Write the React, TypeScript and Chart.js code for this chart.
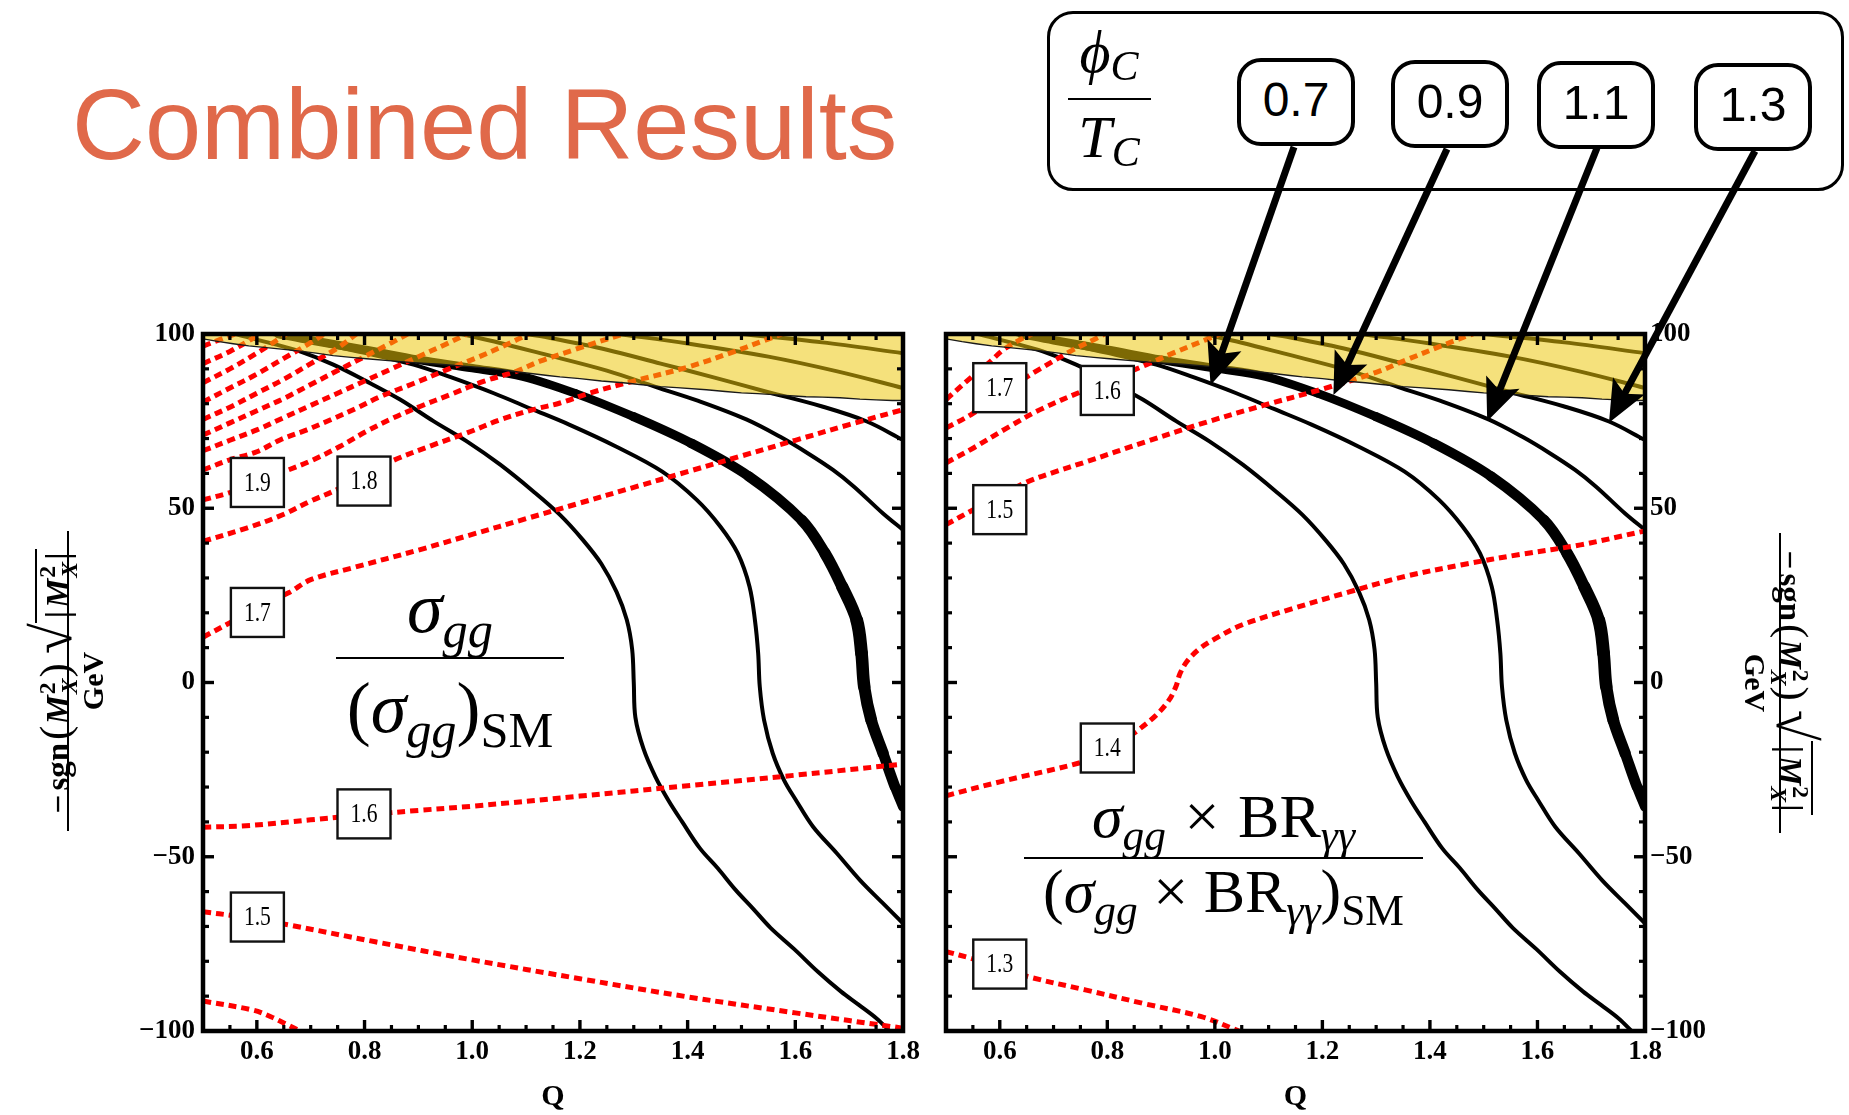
import React, { useEffect, useRef } from 'react';
import { Chart, registerables } from 'chart.js';

Chart.register(...registerables);

type Pt = [number, number];

// ---------- axes ----------
const X_TICKS = [0.6, 0.8, 1.0, 1.2, 1.4, 1.6, 1.8];
const X_MINOR_TICKS = [0.55, 0.65, 0.7, 0.75, 0.85, 0.9, 0.95, 1.05, 1.1, 1.15, 1.25, 1.3, 1.35, 1.45, 1.5, 1.55, 1.65, 1.7, 1.75];
const Y_TICKS = [-100, -50, 0, 50, 100];
const Y_MINOR_TICKS = [-90, -80, -70, -60, -40, -30, -20, -10, 10, 20, 30, 40, 60, 70, 80, 90];

// ---------- phi_C / T_C contours (same in both panels) ----------
const PHI_05: Pt[] = [[0.56, 100], [0.62, 97.6], [0.68, 95.0], [0.742, 91.2], [0.804, 86.4], [0.866, 81.2], [0.928, 75.0], [0.99, 69.2], [1.052, 62.5], [1.113, 54.9], [1.163, 48.1], [1.205, 41], [1.24, 34], [1.268, 26], [1.287, 18], [1.297, 9.5], [1.3, 0], [1.303, -10], [1.318, -19], [1.34, -27], [1.365, -34], [1.39, -40], [1.423, -47.6], [1.456, -53.3], [1.489, -59.5], [1.521, -64.8], [1.554, -70.4], [1.598, -76.5], [1.642, -83.0], [1.685, -88.7], [1.718, -92.5], [1.751, -96.4], [1.775, -100]];
const PHI_07: Pt[] = [[0.63, 100], [0.72, 97.2], [0.8, 94.6], [0.891, 91.2], [0.96, 87.6], [1.04, 83.0], [1.11, 78.5], [1.18, 74.0], [1.266, 67.8], [1.353, 60.5], [1.417, 52.4], [1.461, 44.7], [1.493, 37.1], [1.515, 27.5], [1.525, 17.9], [1.531, 8.4], [1.534, -1.2], [1.542, -10.8], [1.558, -20.3], [1.579, -28.0], [1.601, -33.7], [1.633, -41.4], [1.677, -49.0], [1.72, -56.7], [1.763, -63.4], [1.8, -69.1]];
const PHI_09: Pt[] = [[0.64, 100], [0.7, 98.2], [0.8, 95.5], [0.9, 92.6], [1.0, 90.2], [1.094, 87.8], [1.191, 83.0], [1.299, 76.3], [1.407, 68.6], [1.514, 59.1], [1.612, 46.6], [1.655, 37.1], [1.687, 27.5], [1.714, 17.9], [1.723, 8.4], [1.728, -1.2], [1.741, -10.8], [1.763, -20.3], [1.785, -29.9], [1.8, -35.6]];
const PHI_11: Pt[] = [[0.98, 100], [1.05, 97.5], [1.126, 94.5], [1.25, 89.5], [1.343, 84.7], [1.42, 80.8], [1.509, 75.5], [1.572, 70.5], [1.623, 65.8], [1.67, 61], [1.709, 56.2], [1.763, 48.5], [1.8, 43.8]];
const PHI_13: Pt[] = [[1.1, 100], [1.126, 99.4], [1.25, 95.5], [1.35, 91.5], [1.45, 87.5], [1.55, 83.3], [1.65, 79.2], [1.733, 74.9], [1.8, 69.6]];
const PHI_15: Pt[] = [[1.27, 100], [1.4, 97.3], [1.55, 93.5], [1.68, 89.2], [1.8, 84.5]];
const PHI_17: Pt[] = [[1.5, 100], [1.65, 97.6], [1.8, 94.5]];

// excluded region (top), its lower edge
const EXCLUDED_EDGE: Pt[] = [[0.5, 98.6], [0.53, 97.8], [0.556, 97.2], [0.585, 96.6], [0.618, 96.1], [0.65, 95.6], [0.68, 95.1], [0.71, 94.5], [0.742, 93.8], [0.775, 93.3], [0.804, 92.9], [0.85, 92.3], [0.891, 91.8], [0.94, 91.3], [0.99, 90.7], [1.02, 90.3], [1.052, 89.8], [1.085, 89.1], [1.113, 88.6], [1.14, 88.1], [1.163, 87.7], [1.2, 87.2], [1.24, 86.5], [1.28, 86.0], [1.311, 85.5], [1.35, 84.9], [1.38, 84.6], [1.435, 84.0], [1.47, 83.5], [1.5, 83.1], [1.53, 82.9], [1.559, 82.6], [1.59, 82.3], [1.62, 82.0], [1.65, 81.9], [1.683, 81.7], [1.72, 81.3], [1.75, 81.1], [1.78, 80.9], [1.8, 80.9]];

// ---------- left panel: sigma_gg / (sigma_gg)_SM ----------
const SIG_14: Pt[] = [[0.5, -91.4], [0.593, -94.0], [0.626, -95.9], [0.658, -98.3], [0.68, -100]];
const SIG_15: Pt[] = [[0.5, -65.8], [0.56, -67.0], [0.66, -69.6], [0.82, -74.4], [1.0, -79.6], [1.2, -85.0], [1.4, -90.2], [1.6, -94.8], [1.8, -99.2]];
const SIG_16: Pt[] = [[0.5, -41.5], [0.58, -41.1], [0.7, -39.4], [0.8, -38.0], [0.9, -36.7], [1.0, -35.5], [1.2, -32.6], [1.4, -29.6], [1.6, -26.6], [1.8, -23.4]];
const SIG_17: Pt[] = [[0.5, 13], [0.56, 18], [0.62, 23], [0.66, 25.8], [0.7, 29.5], [0.78, 33], [0.9, 38], [1.0, 42.5], [1.1, 47], [1.2, 51.5], [1.3, 56], [1.4, 60.5], [1.5, 65], [1.6, 69.5], [1.7, 74], [1.8, 78.3]];
const SIG_18: Pt[] = [[0.5, 40.5], [0.581, 44.3], [0.649, 48.2], [0.699, 52.0], [0.748, 55.3], [0.8, 59.5], [0.85, 63.5], [0.928, 68.2], [0.99, 71.6], [1.052, 75.4], [1.113, 78.3], [1.163, 80.2], [1.219, 83.1], [1.3, 86.5], [1.4, 90.5], [1.48, 94.6], [1.54, 98.0], [1.575, 100]];
const SIG_19: Pt[] = [[0.5, 52.4], [0.55, 54.5], [0.6, 57.3], [0.652, 60.6], [0.699, 63.5], [0.754, 67.7], [0.804, 72.1], [0.853, 75.9], [0.903, 79.2], [0.959, 82.6], [1.021, 86.4], [1.082, 89.3], [1.126, 92.2], [1.19, 95.5], [1.27, 99.5], [1.285, 100]];
const SIG_20: Pt[] = [[0.5, 61], [0.55, 63.9], [0.6, 66.2], [0.643, 69.6], [0.693, 72.5], [0.736, 75.3], [0.785, 78.7], [0.829, 82], [0.891, 85.8], [0.952, 89.7], [1.01, 93.3], [1.06, 96.7], [1.105, 100]];
const SIG_21: Pt[] = [[0.5, 66.5], [0.55, 69.5], [0.6, 72.5], [0.65, 76], [0.7, 79.5], [0.75, 83], [0.8, 86.5], [0.85, 90], [0.9, 93.5], [0.95, 97], [0.99, 100]];
const SIG_22: Pt[] = [[0.5, 71], [0.55, 74.5], [0.6, 78], [0.65, 81.5], [0.7, 85.5], [0.75, 89.5], [0.8, 93.5], [0.85, 97.5], [0.88, 100]];
const SIG_23: Pt[] = [[0.5, 75.5], [0.55, 79], [0.6, 83], [0.65, 87], [0.7, 91.5], [0.75, 96], [0.785, 100]];
const SIG_24: Pt[] = [[0.5, 80.5], [0.55, 84.5], [0.6, 88.5], [0.65, 93], [0.7, 97.5], [0.725, 100]];
const SIG_25: Pt[] = [[0.5, 86], [0.55, 90], [0.6, 94.5], [0.64, 98.5], [0.655, 100]];
const SIG_26: Pt[] = [[0.5, 91.5], [0.55, 95], [0.59, 98.5], [0.605, 100]];
const SIG_27: Pt[] = [[0.5, 96.5], [0.53, 98.3], [0.56, 100]];

// ---------- right panel: sigma_gg x BR / (..)_SM ----------
const BR_13: Pt[] = [[0.5, -77.2], [0.548, -79.2], [0.6, -81.5], [0.653, -84.4], [0.759, -88.2], [0.867, -92.1], [0.975, -95.9], [1.045, -100]];
const BR_14: Pt[] = [[0.5, -32.5], [0.6, -28.5], [0.75, -23], [0.8, -20], [0.85, -14.5], [0.89, -9.5], [0.915, -5], [0.928, -1], [0.935, 2.5], [0.948, 6], [0.97, 9.5], [1.0, 12.5], [1.05, 16.5], [1.14, 21], [1.25, 26], [1.35, 30.3], [1.46, 33.8], [1.57, 36.8], [1.68, 39.5], [1.8, 43.5]];
const BR_15: Pt[] = [[0.5, 45.3], [0.55, 49.5], [0.6, 53.5], [0.65, 57.5], [0.7, 60.3], [0.76, 63.3], [0.87, 69], [0.98, 74.5], [1.09, 79.5], [1.2, 84.2], [1.3, 89], [1.355, 92.5], [1.42, 96.5], [1.47, 99.5], [1.48, 100]];
const BR_16: Pt[] = [[0.5, 63], [0.551, 67.3], [0.613, 73], [0.675, 78.3], [0.752, 83.5], [0.8, 86.5], [0.873, 91.2], [0.922, 94.5], [0.984, 98.4], [1.01, 100]];
const BR_17: Pt[] = [[0.5, 73], [0.551, 77.3], [0.613, 84.0], [0.675, 90.0], [0.737, 95.5], [0.78, 98.8], [0.795, 100]];
const BR_18: Pt[] = [[0.5, 81.2], [0.55, 88.0], [0.58, 91.8], [0.607, 95.5], [0.638, 98.4], [0.66, 100]];

// contour labels
type Lab = { t: string; q: number; m: number };
const LEFT_LABELS: Lab[] = [
  { t: '1.9', q: 0.601, m: 57.4 }, { t: '1.8', q: 0.799, m: 57.8 }, { t: '1.7', q: 0.601, m: 20.1 },
  { t: '1.6', q: 0.799, m: -37.7 }, { t: '1.5', q: 0.601, m: -67.3 },
];
const RIGHT_LABELS: Lab[] = [
  { t: '1.7', q: 0.6, m: 84.6 }, { t: '1.6', q: 0.8, m: 83.8 }, { t: '1.5', q: 0.6, m: 49.6 },
  { t: '1.4', q: 0.8, m: -18.8 }, { t: '1.3', q: 0.6, m: -80.8 },
];

// legend levels and arrow targets (data coords in right panel)
const PHI_LEVELS = ['0.7', '0.9', '1.1', '1.3'];
const ARROW_TIPS: Pt[] = [[0.992, 85.4], [1.2205, 82.5], [1.5065, 75.0], [1.733, 74.5]];

// ---------- layout constants (pixels) ----------
const RIGHT_CANVAS_LEFT = 900;
const LEGEND_BOXES = [[1237, 58], [1391, 60], [1537, 61], [1694, 63]];
const ARROW_TAILS = [[1294, 147], [1447, 149], [1597, 148], [1755, 151]];

const SERIF = '"Liberation Serif", "Times New Roman", serif';
const SANS = '"Liberation Sans", Arial, sans-serif';

const toXY = (a: Pt[]) => a.map(([x, y]) => ({ x, y }));

function blackLine(d: Pt[], w = 4): any {
  return { data: toXY(d), borderColor: '#000', borderWidth: w, pointRadius: 0, fill: false, tension: 0.35, borderCapStyle: 'round', borderJoinStyle: 'round' };
}
function thickLine(d: Pt[]): any {
  const n = d.length;
  const wf = (i: number) => {
    const t = i / (n - 1);
    if (t < 0.3) return 8.5;
    return t < 0.7 ? 8.5 + 4.5 * ((t - 0.3) / 0.4) : 13 - 3.5 * ((t - 0.7) / 0.3);
  };
  return { ...blackLine(d, 9), segment: { borderWidth: (c: any) => wf(c.p0DataIndex) } };
}
function redLine(d: Pt[]): any {
  return { data: toXY(d), borderColor: '#ff0000', borderWidth: 5, borderDash: [8, 5], pointRadius: 0, fill: false, tension: 0.35 };
}
function excluded(): any {
  return { data: toXY(EXCLUDED_EDGE), borderColor: '#1a1a1a', borderWidth: 1.4, pointRadius: 0, fill: 'end', backgroundColor: 'rgba(236,198,8,0.53)', tension: 0 };
}

const framePlugin = {
  id: 'frameTicks',
  afterDraw(chart: any) {
    const { ctx, chartArea: a, scales } = chart;
    const x = scales.x, y = scales.y;
    ctx.save();
    ctx.strokeStyle = '#000';
    ctx.lineCap = 'butt';
    const seg = (x1: number, y1: number, x2: number, y2: number, w: number) => {
      ctx.lineWidth = w; ctx.beginPath(); ctx.moveTo(x1, y1); ctx.lineTo(x2, y2); ctx.stroke();
    };
    for (const v of X_TICKS) { const p = x.getPixelForValue(v); seg(p, a.bottom, p, a.bottom - 11, 3.4); seg(p, a.top, p, a.top + 11, 3.4); }
    for (const v of X_MINOR_TICKS) { const p = x.getPixelForValue(v); seg(p, a.bottom, p, a.bottom - 6, 3.2); seg(p, a.top, p, a.top + 6, 3.2); }
    for (const v of Y_TICKS) { const p = y.getPixelForValue(v); seg(a.left, p, a.left + 11, p, 3.4); seg(a.right, p, a.right - 11, p, 3.4); }
    for (const v of Y_MINOR_TICKS) { const p = y.getPixelForValue(v); seg(a.left, p, a.left + 6, p, 3.2); seg(a.right, p, a.right - 6, p, 3.2); }
    ctx.lineWidth = 4.5;
    ctx.strokeRect(a.left, a.top, a.right - a.left, a.bottom - a.top);
    ctx.restore();
  },
};

function labelPlugin(items: Lab[]) {
  return {
    id: 'contourLabels',
    afterDatasetsDraw(chart: any) {
      const { ctx, scales } = chart;
      ctx.save();
      for (const it of items) {
        const cx = scales.x.getPixelForValue(it.q), cy = scales.y.getPixelForValue(it.m);
        const w = 53, h = 49;
        ctx.fillStyle = '#fff';
        ctx.fillRect(cx - w / 2, cy - h / 2, w, h);
        ctx.strokeStyle = '#111';
        ctx.lineWidth = 2.4;
        ctx.strokeRect(cx - w / 2, cy - h / 2, w, h);
        ctx.save();
        ctx.translate(cx, cy + 1);
        ctx.scale(0.8, 1);
        ctx.font = '27px "Liberation Serif"';
        ctx.fillStyle = '#000';
        ctx.textAlign = 'center';
        ctx.textBaseline = 'middle';
        ctx.fillText(it.t, 0, 0);
        ctx.restore();
      }
      ctx.restore();
    },
  };
}

const arrowPlugin = {
  id: 'legendArrows',
  afterDraw(chart: any) {
    const { ctx, scales } = chart;
    ctx.save();
    ctx.strokeStyle = '#000';
    ctx.fillStyle = '#000';
    ARROW_TIPS.forEach(([q, m], i) => {
      const tx = scales.x.getPixelForValue(q), ty = scales.y.getPixelForValue(m);
      const sx = ARROW_TAILS[i][0] - RIGHT_CANVAS_LEFT, sy = ARROW_TAILS[i][1];
      const dx = tx - sx, dy = ty - sy, len = Math.hypot(dx, dy);
      const ux = dx / len, uy = dy / len, px = -uy, py = ux;
      const L = 42, W = 18;
      const bx = tx - ux * L, by = ty - uy * L;
      ctx.lineWidth = 7;
      ctx.lineCap = 'butt';
      ctx.beginPath(); ctx.moveTo(sx, sy); ctx.lineTo(bx + ux * 12, by + uy * 12); ctx.stroke();
      ctx.beginPath();
      ctx.moveTo(tx, ty);
      ctx.lineTo(bx + px * W, by + py * W);
      ctx.lineTo(bx + ux * 9, by + uy * 9);
      ctx.lineTo(bx - px * W, by - py * W);
      ctx.closePath();
      ctx.fill();
    });
    ctx.restore();
  },
};

function makeConfig(side: 'left' | 'right'): any {
  const reds = side === 'left'
    ? [SIG_14, SIG_15, SIG_16, SIG_17, SIG_18, SIG_19, SIG_20, SIG_21, SIG_22, SIG_23, SIG_24, SIG_25, SIG_26, SIG_27]
    : [BR_13, BR_14, BR_15, BR_16, BR_17, BR_18];
  const datasets = [
    excluded(),
    ...reds.map(redLine),
    blackLine(PHI_05), blackLine(PHI_07), thickLine(PHI_09), blackLine(PHI_11), blackLine(PHI_13), blackLine(PHI_15), blackLine(PHI_17),
  ];
  const tickFont = { family: SERIF, size: 27, weight: 'bold' as const };
  return {
    type: 'line',
    data: { datasets },
    options: {
      animation: false,
      responsive: false,
      maintainAspectRatio: false,
      events: [],
      layout: { padding: side === 'left' ? { left: 120, right: 27, top: 334, bottom: 0 } : { left: 46, right: 0, top: 334, bottom: 0 } },
      plugins: { legend: { display: false }, tooltip: { enabled: false } },
      elements: { point: { radius: 0 } },
      scales: {
        x: {
          type: 'linear', min: 0.5, max: 1.8,
          afterBuildTicks: (s: any) => { s.ticks = X_TICKS.map((value) => ({ value })); },
          afterFit: (s: any) => { s.height = 84; },
          grid: { display: false, drawTicks: false },
          border: { display: false },
          ticks: { font: tickFont, color: '#000', padding: 5, autoSkip: false, maxRotation: 0, minRotation: 0, callback: (v: any) => Number(v).toFixed(1) },
          title: { display: true, text: 'Q', color: '#000', font: { family: SERIF, size: 30, weight: 'bold' }, padding: { top: 0, bottom: 0 } },
        },
        y: {
          type: 'linear', min: -100, max: 100, position: side,
          afterBuildTicks: (s: any) => { s.ticks = Y_TICKS.map((value) => ({ value })); },
          afterFit: (s: any) => { s.width = side === 'left' ? 83 : 204; },
          grid: { display: false, drawTicks: false },
          border: { display: false },
          ticks: { font: tickFont, color: '#000', padding: side === 'left' ? 8 : 5, autoSkip: false, callback: (v: any) => { const n = Number(v); return n < 0 ? '\u2212' + Math.abs(n) : String(n); } },
        },
      },
    },
    plugins: side === 'left' ? [framePlugin, labelPlugin(LEFT_LABELS)] : [framePlugin, labelPlugin(RIGHT_LABELS), arrowPlugin],
  };
}

const subStyle = (italic: boolean, top = '0.28em'): React.CSSProperties => ({ fontSize: '0.7em', fontStyle: italic ? 'italic' : 'normal', position: 'relative', top });

function Stack() {
  return (
    <span style={{ display: 'inline-block', verticalAlign: '-0.32em', fontSize: '0.72em', lineHeight: 0.92, textAlign: 'left', marginLeft: 1 }}>
      <span style={{ display: 'block' }}>2</span>
      <span style={{ display: 'block', fontStyle: 'italic' }}>X</span>
    </span>
  );
}

function AxisTitle({ cx, cy, rot }: { cx: number; cy: number; rot: number }) {
  return (
    <div style={{ position: 'absolute', left: cx - 150, top: cy - 45, width: 300, height: 90, transform: `rotate(${rot}deg)`, fontFamily: SERIF, fontWeight: 'bold', fontSize: 33, color: '#000' }}>
      <div style={{ height: 42, lineHeight: '50px', textAlign: 'center', whiteSpace: 'nowrap' }}>
        <span>−</span>
        <span style={{ marginLeft: 4 }}>sgn</span>
        <span style={{ fontSize: '1.3em', fontWeight: 'normal', marginLeft: 3, marginRight: 1 }}>(</span>
        <i>M</i><Stack />
        <span style={{ fontSize: '1.3em', fontWeight: 'normal', marginLeft: 1 }}>)</span>
        <span style={{ fontSize: '1.7em', fontWeight: 'normal', marginLeft: 9, position: 'relative', top: '0.04em' }}>√</span>
        <span style={{ borderTop: '2.5px solid #000', display: 'inline-block', lineHeight: 1.15, paddingLeft: 5, paddingRight: 4 }}>
          |<i style={{ marginLeft: 3 }}>M</i><Stack /><span style={{ marginLeft: 2 }}>|</span>
        </span>
      </div>
      <div style={{ borderTop: '2px solid #000', width: 300 }} />
      <div style={{ marginTop: 9, lineHeight: 1, textAlign: 'center', fontSize: 30 }}>GeV</div>
    </div>
  );
}

export default function App() {
  const leftRef = useRef<HTMLCanvasElement>(null);
  const rightRef = useRef<HTMLCanvasElement>(null);

  useEffect(() => {
    const l = new Chart(leftRef.current as HTMLCanvasElement, makeConfig('left'));
    const r = new Chart(rightRef.current as HTMLCanvasElement, makeConfig('right'));
    return () => { l.destroy(); r.destroy(); };
  }, []);

  return (
    <div style={{ position: 'absolute', left: 0, top: 0, width: 1849, height: 1115, overflow: 'hidden', background: '#fff' }}>
      <canvas ref={leftRef} width={930} height={1115} style={{ position: 'absolute', left: 0, top: 0 }} />
      <canvas ref={rightRef} width={949} height={1115} style={{ position: 'absolute', left: RIGHT_CANVAS_LEFT, top: 0 }} />

      {/* title */}
      <div style={{ position: 'absolute', left: 72, top: 74, fontFamily: SANS, fontSize: 101, lineHeight: 1, color: '#E0694A', whiteSpace: 'nowrap' }}>Combined Results</div>

      {/* legend */}
      <div style={{ position: 'absolute', left: 1047, top: 11, width: 797, height: 180, border: '3.5px solid #000', borderRadius: 26, boxSizing: 'border-box' }} />
      <div style={{ position: 'absolute', left: 1060, top: 22, width: 98, textAlign: 'center', fontFamily: SERIF, fontStyle: 'italic', fontSize: 60, lineHeight: 1 }}>
        ϕ<span style={subStyle(true, '0.18em')}>C</span>
      </div>
      <div style={{ position: 'absolute', left: 1068, top: 98, width: 83, borderTop: '2.5px solid #000' }} />
      <div style={{ position: 'absolute', left: 1060, top: 107, width: 98, textAlign: 'center', fontFamily: SERIF, fontStyle: 'italic', fontSize: 60, lineHeight: 1 }}>
        T<span style={subStyle(true, '0.22em')}>C</span>
      </div>
      {PHI_LEVELS.map((t, i) => (
        <div key={t} style={{ position: 'absolute', left: LEGEND_BOXES[i][0], top: LEGEND_BOXES[i][1], width: 118, height: 88, border: '4px solid #000', borderRadius: 24, boxSizing: 'border-box', background: '#fff', display: 'flex', alignItems: 'center', justifyContent: 'center', fontFamily: SANS, fontSize: 48, paddingBottom: 6 }}>{t}</div>
      ))}

      {/* in-plot fraction, left */}
      <div style={{ position: 'absolute', left: 316, top: 572, width: 268, textAlign: 'center', fontFamily: SERIF, fontSize: 72, lineHeight: 1, whiteSpace: 'nowrap' }}>
        <i>σ</i><span style={subStyle(true, '0.3em')}>gg</span>
      </div>
      <div style={{ position: 'absolute', left: 336, top: 657, width: 228, borderTop: '2.5px solid #000' }} />
      <div style={{ position: 'absolute', left: 316, top: 672, width: 268, textAlign: 'center', fontFamily: SERIF, fontSize: 72, lineHeight: 1, whiteSpace: 'nowrap' }}>
        (<i>σ</i><span style={subStyle(true, '0.3em')}>gg</span>)<span style={subStyle(false, '0.3em')}>SM</span>
      </div>

      {/* in-plot fraction, right */}
      <div style={{ position: 'absolute', left: 1004, top: 785, width: 439, textAlign: 'center', fontFamily: SERIF, fontSize: 62, lineHeight: 1, whiteSpace: 'nowrap' }}>
        <i>σ</i><span style={subStyle(true, '0.3em')}>gg</span><span style={{ margin: '0 0.3em' }}>×</span>BR<span style={subStyle(true, '0.3em')}>γγ</span>
      </div>
      <div style={{ position: 'absolute', left: 1024, top: 857, width: 399, borderTop: '2.5px solid #000' }} />
      <div style={{ position: 'absolute', left: 1004, top: 860, width: 439, textAlign: 'center', fontFamily: SERIF, fontSize: 62, lineHeight: 1, whiteSpace: 'nowrap' }}>
        (<i>σ</i><span style={subStyle(true, '0.3em')}>gg</span><span style={{ margin: '0 0.25em' }}>×</span>BR<span style={subStyle(true, '0.3em')}>γγ</span>)<span style={subStyle(false, '0.3em')}>SM</span>
      </div>

      {/* y axis titles */}
      <AxisTitle cx={70} cy={681} rot={-90} />
      <AxisTitle cx={1778} cy={683} rot={90} />
    </div>
  );
}
